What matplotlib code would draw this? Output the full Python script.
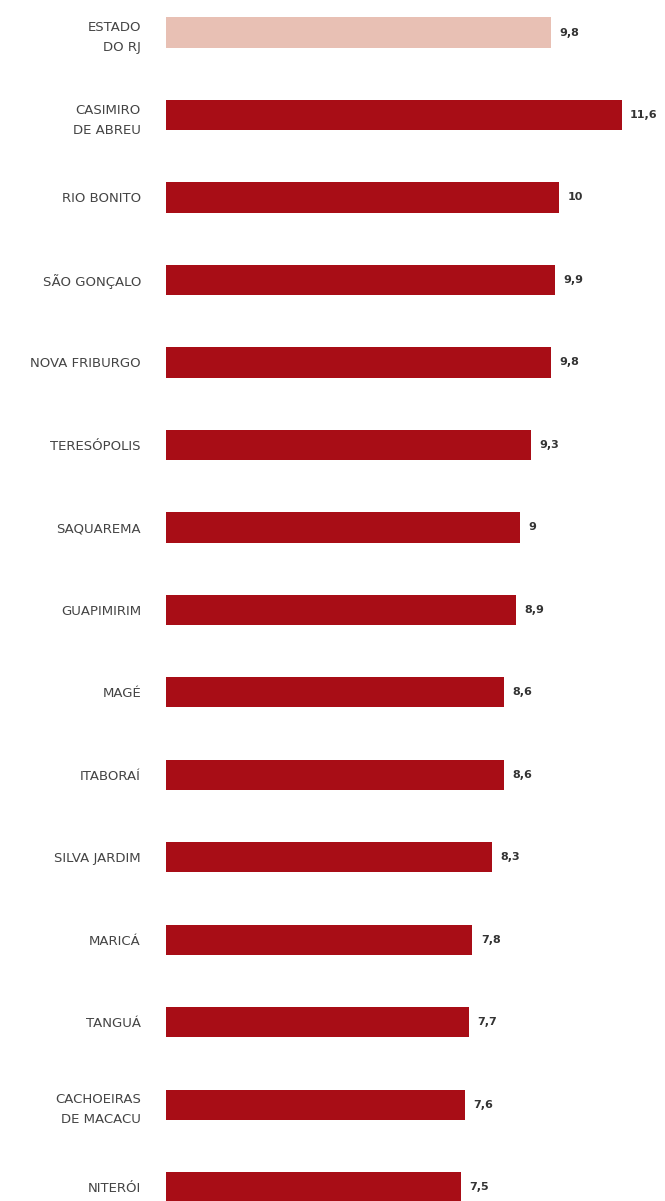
import matplotlib.pyplot as plt

# Municipalities and values (state average first)
cities = ['ESTADO\nDO RJ', 'CASIMIRO\nDE ABREU', 'RIO BONITO', 'SÃO GONÇALO',
          'NOVA FRIBURGO', 'TERESÓPOLIS', 'SAQUAREMA', 'GUAPIMIRIM', 'MAGÉ',
          'ITABORAÍ', 'SILVA JARDIM', 'MARICÁ', 'TANGUÁ',
          'CACHOEIRAS\nDE MACACU', 'NITERÓI']
values = [9.8, 11.6, 10, 9.9, 9.8, 9.3, 9, 8.9, 8.6, 8.6, 8.3, 7.8, 7.7, 7.6, 7.5]
value_labels = ['9,8', '11,6', '10', '9,9', '9,8', '9,3', '9', '8,9', '8,6',
                '8,6', '8,3', '7,8', '7,7', '7,6', '7,5']

STATE_COLOR = '#e8c0b4'
CITY_COLOR = '#a80d16'

plt.rcParams['font.family'] = ['DejaVu Sans']

fig = plt.figure(figsize=(6.65, 12.01), dpi=100)
ax = fig.add_axes([166 / 665, 0, 499 / 665, 1])

pos = list(range(len(cities)))
colors = [STATE_COLOR] + [CITY_COLOR] * (len(cities) - 1)
ax.barh(pos, values, height=0.364, color=colors, align='center')

for p, v, lab in zip(pos, values, value_labels):
    ax.annotate(lab, (v, p), xytext=(6, 0), textcoords='offset points',
                va='center', ha='left', fontsize=8, fontweight='bold',
                color='#333333')

ax.set_yticks(pos)
ax.set_yticklabels(cities, fontsize=9.5, color='#444444', linespacing=1.7)
ax.tick_params(axis='y', length=0, pad=18)
ax.set_xticks([])
ax.set_xlim(0, 12.7)
ax.set_ylim(14.164, -0.394)
for s in ax.spines.values():
    s.set_visible(False)

fig.savefig('out.png', dpi=100)
